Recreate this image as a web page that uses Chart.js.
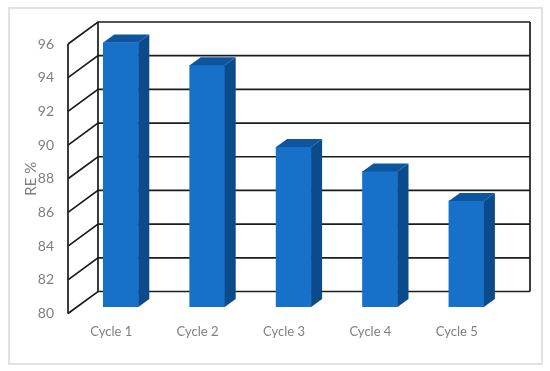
<!DOCTYPE html>
<html>
<head>
<meta charset="utf-8">
<title>RE % per cycle</title>
<script src="https://cdn.jsdelivr.net/npm/chart.js@4"></script>
<style>
    html, body { margin: 0; padding: 0; background: #fff; }
    #frame { position: absolute; left: 8px; top: 7px; width: 531px; height: 354px; border: 2px solid #e2e2e2; }
    #plot { position: absolute; left: 0; top: 0; }
</style>
</head>
<body>
<div id="frame"></div>
<canvas id="plot" width="550" height="371"></canvas>
<script>
var categories = ["Cycle 1", "Cycle 2", "Cycle 3", "Cycle 4", "Cycle 5"];
var reValues = [95.7, 94.35, 89.5, 88.05, 86.3];
var yMin = 80;
var yMax = 96;
var yStep = 2;

var wallDx = 30, wallDy = -22; // front wall to back wall
var barDx = 9.6, barDy = -6.5; // bars stand a bit behind the front wall
var sideDx = 11, sideDy = -8; // depth of one bar

var lineColor = "#1c1c1c";
var textColor = "#7f7f7f";

var boxPlugin = {
    id: "box3d",
    beforeDatasetsDraw: function (chart) {
        var ctx = chart.ctx;
        var area = chart.chartArea;
        var y = chart.scales.y;
        ctx.save();
        ctx.strokeStyle = lineColor;
        ctx.lineWidth = 1.7;
        // left wall + back wall grid lines
        y.ticks.forEach(function (t) {
            var py = y.getPixelForValue(t.value);
            ctx.beginPath();
            ctx.moveTo(area.left, py);
            ctx.lineTo(area.left + wallDx, py + wallDy);
            ctx.lineTo(area.right + wallDx, py + wallDy);
            ctx.stroke();
        });
        // vertical edges
        ctx.beginPath();
        ctx.moveTo(area.left, area.top);
        ctx.lineTo(area.left, area.bottom);
        ctx.moveTo(area.left + wallDx, area.top + wallDy);
        ctx.lineTo(area.left + wallDx, area.bottom + wallDy);
        ctx.moveTo(area.right + wallDx, area.top + wallDy);
        ctx.lineTo(area.right + wallDx, area.bottom + wallDy);
        ctx.stroke();
        ctx.restore();

        // bars are drawn shifted, restored in afterDatasetsDraw
        ctx.save();
        ctx.translate(barDx, barDy);
    },
    afterDatasetsDraw: function (chart) {
        var ctx = chart.ctx;
        var base = chart.scales.y.getPixelForValue(yMin); // bar.base is the pixel of 0, way off the axis
        chart.getDatasetMeta(0).data.forEach(function (bar) {
            var right = bar.x + bar.width / 2;
            var left = bar.x - bar.width / 2;
            // side face
            ctx.fillStyle = "#0b4b8c";
            ctx.beginPath();
            ctx.moveTo(right, bar.y);
            ctx.lineTo(right + sideDx, bar.y + sideDy);
            ctx.lineTo(right + sideDx, base + sideDy);
            ctx.lineTo(right, base);
            ctx.closePath();
            ctx.fill();
            // top face
            ctx.fillStyle = "#0e559f";
            ctx.beginPath();
            ctx.moveTo(left, bar.y);
            ctx.lineTo(left + sideDx, bar.y + sideDy);
            ctx.lineTo(right + sideDx, bar.y + sideDy);
            ctx.lineTo(right, bar.y);
            ctx.closePath();
            ctx.fill();
        });
        ctx.restore();
    }
};

var ctx = document.getElementById("plot");
var reChart = new Chart(ctx, {
    type: "bar",
    data: {
        labels: categories,
        datasets: [{
            label: "RE %",
            data: reValues,
            backgroundColor: "#1871c9",
            borderWidth: 0,
            barThickness: 35
        }]
    },
    options: {
        responsive: false,
        animation: false,
        layout: { padding: { left: 0, top: 44, right: 50, bottom: 0 } },
        plugins: {
            legend: { display: false },
            tooltip: { enabled: false }
        },
        scales: {
            x: {
                grid: { display: false, drawTicks: false },
                border: { display: false },
                ticks: {
                    color: textColor,
                    padding: 11,
                    maxRotation: 0,
                    font: { family: "Lato", size: 13 }
                },
                afterFit: function (scale) { scale.height = 57.5; }
            },
            y: {
                min: yMin,
                max: yMax,
                grid: { display: false, drawTicks: false },
                border: { display: false },
                title: {
                    display: true,
                    text: "RE %",
                    color: textColor,
                    padding: { top: 22, bottom: 0 },
                    font: { family: "Lato", size: 15 }
                },
                ticks: {
                    stepSize: yStep,
                    color: textColor,
                    padding: 14,
                    font: { family: "Lato", size: 14 }
                },
                afterFit: function (scale) { scale.width = 68; }
            }
        }
    },
    plugins: [boxPlugin]
});
</script>
</body>
</html>
